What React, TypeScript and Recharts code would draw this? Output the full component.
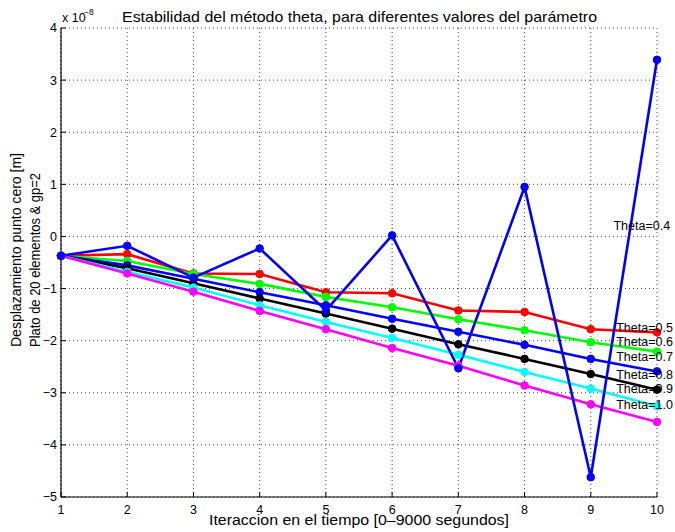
import React from 'react';
import { LineChart, Line, XAxis, YAxis, CartesianGrid, ReferenceDot } from 'recharts';

// valores en unidades de 1e-8 m
const iterations = [1, 2, 3, 4, 5, 6, 7, 8, 9, 10];
const theta04 = [-0.37, -0.18, -0.79, -0.23, -1.42, 0.02, -2.53, 0.95, -4.62, 3.39];
const theta05 = [-0.37, -0.34, -0.71, -0.72, -1.07, -1.09, -1.42, -1.45, -1.78, -1.84];
const theta06 = [-0.37, -0.47, -0.72, -0.91, -1.16, -1.36, -1.59, -1.8, -2.03, -2.21];
const theta07 = [-0.37, -0.555, -0.81, -1.07, -1.32, -1.58, -1.83, -2.08, -2.35, -2.59];
const theta08 = [-0.37, -0.61, -0.9, -1.19, -1.48, -1.77, -2.07, -2.35, -2.64, -2.94];
const theta09 = [-0.37, -0.68, -0.98, -1.32, -1.64, -1.95, -2.27, -2.6, -2.92, -3.26];
const theta10 = [-0.37, -0.71, -1.06, -1.43, -1.78, -2.14, -2.48, -2.86, -3.22, -3.56];

const labelNames = ['Theta=0.4', 'Theta=0.5', 'Theta=0.6', 'Theta=0.7', 'Theta=0.8', 'Theta=0.9', 'Theta=1.0'];
const labelX = [9.343, 9.384, 9.384, 9.384, 9.384, 9.384, 9.384];
const labelY = [0.21, -1.745, -2.02, -2.3, -2.65, -2.92, -3.23];

const xTicks = [1, 2, 3, 4, 5, 6, 7, 8, 9, 10];
const yTicks = [-5, -4, -3, -2, -1, 0, 1, 2, 3, 4];

const data = iterations.map((it, i) => ({
  it,
  t04: theta04[i],
  t05: theta05[i],
  t06: theta06[i],
  t07: theta07[i],
  t08: theta08[i],
  t09: theta09[i],
  t10: theta10[i],
}));

// orden de dibujo: la curva inestable (0.4) queda encima
const series = [
  { key: 't05', color: '#ff0000' },
  { key: 't06', color: '#00ff00' },
  { key: 't07', color: '#0000ff' },
  { key: 't08', color: '#000000' },
  { key: 't09', color: '#00ffff' },
  { key: 't10', color: '#ff00ff' },
  { key: 't04', color: '#0000ff' },
];

const fmt = (v: number) => (v < 0 ? '\u2212' + Math.abs(v) : String(v));
const font = '"Liberation Sans", Arial, Helvetica, sans-serif';

export default function App() {
  return (
    <div style={{ position: 'absolute', left: 0, top: 0, width: 675, height: 532, background: '#fff', fontFamily: font }}>
      <LineChart width={675} height={532} data={data} margin={{ top: 28, right: 18, bottom: 0, left: 0 }}>
        <CartesianGrid stroke="#444" strokeDasharray="1 3" strokeWidth={1} />
        <XAxis
          dataKey="it"
          type="number"
          domain={[1, 10]}
          ticks={xTicks}
          height={35}
          tickSize={-5}
          tickMargin={13.5}
          axisLine={{ stroke: '#000', strokeWidth: 1.2 }}
          tickLine={{ stroke: '#000' }}
          tick={{ fill: '#000', fontSize: 12.5 }}
        />
        <XAxis
          xAxisId="top"
          orientation="top"
          dataKey="it"
          type="number"
          domain={[1, 10]}
          ticks={xTicks}
          height={0}
          tickSize={-5}
          axisLine={{ stroke: '#000', strokeWidth: 1.2 }}
          tickLine={{ stroke: '#000' }}
          tick={() => <g />}
        />
        <YAxis
          type="number"
          domain={[-5, 4]}
          ticks={yTicks}
          width={61}
          tickSize={-5}
          tickMargin={9}
          tickFormatter={fmt}
          axisLine={{ stroke: '#000', strokeWidth: 1.2 }}
          tickLine={{ stroke: '#000' }}
          tick={{ fill: '#000', fontSize: 12.5 }}
        />
        <YAxis
          yAxisId="right"
          orientation="right"
          type="number"
          domain={[-5, 4]}
          ticks={yTicks}
          width={0}
          tickSize={-5}
          axisLine={{ stroke: '#000', strokeWidth: 1.2 }}
          tickLine={{ stroke: '#000' }}
          tick={() => <g />}
        />
        {series.map((s) => (
          <Line
            key={s.key}
            dataKey={s.key}
            stroke={s.color}
            strokeWidth={2.6}
            dot={{ r: 3.8, fill: s.color, stroke: s.color, strokeWidth: 1 }}
            isAnimationActive={false}
          />
        ))}
        {labelNames.map((name, i) => (
          <ReferenceDot
            key={name}
            x={labelX[i]}
            y={labelY[i]}
            r={0}
            stroke="none"
            fill="none"
            label={{ value: name, position: 'right', offset: 0, fill: '#000', fontSize: 12.5 }}
          />
        ))}
      </LineChart>
      <svg
        width={675}
        height={532}
        style={{ position: 'absolute', left: 0, top: 0, pointerEvents: 'none', fontFamily: font }}
      >
        <text x={122} y={21.7} fontSize={15} textLength={475} lengthAdjust="spacingAndGlyphs" fill="#000">
          Estabilidad del método theta, para diferentes valores del parámetro
        </text>
        <text x={62} y={21.7} fontSize={12.5} fill="#000">x 10</text>
        <text x={84} y={15} fontSize={8.5} fill="#000">{'\u22128'}</text>
        <text x={209} y={524.5} fontSize={14} textLength={300} lengthAdjust="spacingAndGlyphs" fill="#000">
          Iteraccion en el tiempo [0–9000 segundos]
        </text>
        <text
          transform="translate(21,347) rotate(-90)"
          fontSize={14}
          textLength={194}
          lengthAdjust="spacingAndGlyphs"
          fill="#000"
        >
          Desplazamiento punto cero [m]
        </text>
        <text
          transform="translate(39.5,347) rotate(-90)"
          fontSize={14}
          textLength={174}
          lengthAdjust="spacingAndGlyphs"
          fill="#000"
        >
          Plato de 20 elementos &amp;  gp=2
        </text>
      </svg>
    </div>
  );
}
